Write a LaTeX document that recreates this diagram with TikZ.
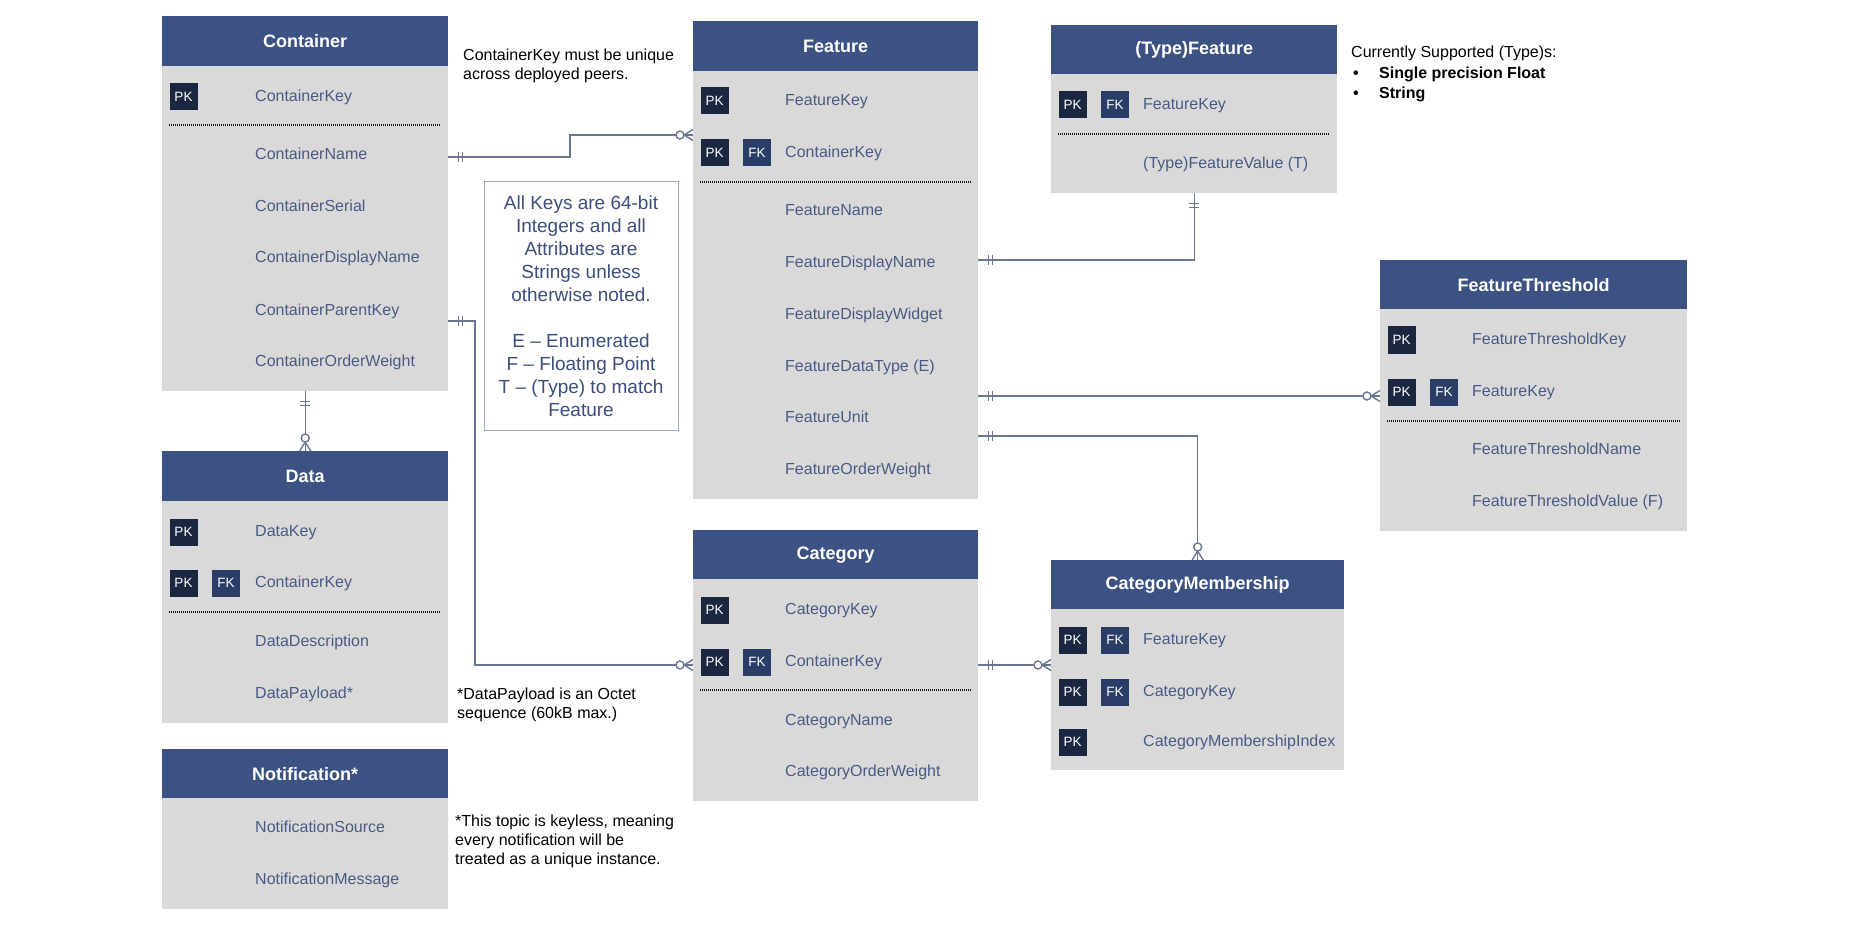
\documentclass[tikz,border=0pt]{standalone}
\usepackage{fontspec}
\setmainfont{Liberation Sans}
\definecolor{hdrblue}{HTML}{3C5282}
\definecolor{bodygray}{HTML}{D9D9D9}
\definecolor{rowtxt}{HTML}{4B5A84}
\definecolor{pkcol}{HTML}{1B2640}
\definecolor{fkcol}{HTML}{2A3D66}
\definecolor{linecol}{HTML}{6C7692}
\definecolor{notebd}{HTML}{9AA6C2}
\definecolor{notetxt}{HTML}{3D4E7C}
\newcommand\mkentity[7]{%
  \node[hdr, minimum width=#3, minimum height={#5-#4}, anchor=north west] (#1h) at (#2,#4) {#7};
  \node[bodybox, minimum width=#3, minimum height={#6-#5}, anchor=north west] (#1) at (#2,#5) {};}
\begin{document}
\begin{tikzpicture}[x=1pt,y=-1pt,
  hdr/.style={fill=hdrblue, text=white, font=\fontsize{18}{22}\selectfont\bfseries, inner sep=0},
  bodybox/.style={fill=bodygray, inner sep=0},
  row/.style={anchor=mid west, inner sep=0, yshift=-3pt, text=rowtxt, font=\fontsize{16}{19}\selectfont},
  badge/.style={minimum width=28, minimum height=27, inner sep=0, yshift=-1pt, text=white, font=\fontsize{13.5}{15}\selectfont},
  pk/.style={badge, fill=pkcol},
  fk/.style={badge, fill=fkcol},
  dotline/.style={draw=black!90, line width=1.3pt, dash pattern=on 1pt off 1pt},
  conn/.style={draw=linecol, line width=1.4pt},
  one/.pic={\draw[conn] (10,-5)--(10,5) (14,-5)--(14,5);},
  many/.pic={\draw[conn] (0,-5.5)--(9,0) (0,5.5)--(9,0); \draw[conn,fill=white] (13,0) circle[radius=4];},
  note/.style={anchor=north west, inner sep=0, align=left, font=\fontsize{16}{19}\selectfont, text=black},
  keynote/.style={draw=notebd, line width=1pt, fill=white, minimum width=194, minimum height=248, inner sep=0, align=center, text=notetxt, font=\fontsize{19}{23}\selectfont},
]
\fill[white] (0,0) rectangle (1850,925);
\useasboundingbox (0,0) rectangle (1850,925);

% ---------- entities ----------
\mkentity{cont}{162}{286}{16}{66}{391}{Container}
\mkentity{feat}{693}{285}{21}{71}{499}{Feature}
\mkentity{tf}{1051}{286}{25}{74}{193}{(Type)Feature}
\mkentity{fth}{1380}{307}{260}{309}{531}{FeatureThreshold}
\mkentity{data}{162}{286}{451}{501}{723}{Data}
\mkentity{notif}{162}{286}{749}{798}{909}{Notification*}
\mkentity{cat}{693}{285}{530}{579}{801}{Category}
\mkentity{cm}{1051}{293}{560}{609}{770}{CategoryMembership}

% Container rows
\node[pk] (contB1) at (183.5,96) {PK};
\node[row] (contR1) at (255,96) {ContainerKey};
\draw[dotline] (169,125) -- (441,125);
\node[row] (contR2) at (255,154) {ContainerName};
\node[row] (contR3) at (255,206) {ContainerSerial};
\node[row] (contR4) at (255,257) {ContainerDisplayName};
\node[row] (contR5) at (255,310) {ContainerParentKey};
\node[row] (contR6) at (255,361) {ContainerOrderWeight};

% Feature rows
\node[pk] (featB1) at (714.5,100) {PK};
\node[row] (featR1) at (785,100) {FeatureKey};
\node[pk] (featB2) at (714.5,152) {PK};
\node[fk] (featB3) at (757,152) {FK};
\node[row] (featR2) at (785,152) {ContainerKey};
\draw[dotline] (700,182) -- (971,182);
\node[row] (featR3) at (785,210) {FeatureName};
\node[row] (featR4) at (785,262) {FeatureDisplayName};
\node[row] (featR5) at (785,314) {FeatureDisplayWidget};
\node[row] (featR6) at (785,366) {FeatureDataType (E)};
\node[row] (featR7) at (785,417) {FeatureUnit};
\node[row] (featR8) at (785,469) {FeatureOrderWeight};

% (Type)Feature rows
\node[pk] (tfB1) at (1072.5,104) {PK};
\node[fk] (tfB2) at (1115,104) {FK};
\node[row] (tfR1) at (1143,104) {FeatureKey};
\draw[dotline] (1058,134) -- (1330,134);
\node[row] (tfR2) at (1143,163) {(Type)FeatureValue (T)};

% FeatureThreshold rows
\node[pk] (fthB1) at (1401.5,339) {PK};
\node[row] (fthR1) at (1472,339) {FeatureThresholdKey};
\node[pk] (fthB2) at (1401.5,391) {PK};
\node[fk] (fthB3) at (1444,391) {FK};
\node[row] (fthR2) at (1472,391) {FeatureKey};
\draw[dotline] (1387,421) -- (1680,421);
\node[row] (fthR3) at (1472,449) {FeatureThresholdName};
\node[row] (fthR4) at (1472,501) {FeatureThresholdValue (F)};

% Data rows
\node[pk] (dataB1) at (183.5,531) {PK};
\node[row] (dataR1) at (255,531) {DataKey};
\node[pk] (dataB2) at (183.5,582) {PK};
\node[fk] (dataB3) at (226,582) {FK};
\node[row] (dataR2) at (255,582) {ContainerKey};
\draw[dotline] (169,612) -- (441,612);
\node[row] (dataR3) at (255,641) {DataDescription};
\node[row] (dataR4) at (255,693) {DataPayload*};

% Notification rows
\node[row] (notifR1) at (255,827) {NotificationSource};
\node[row] (notifR2) at (255,879) {NotificationMessage};

% Category rows
\node[pk] (catB1) at (714.5,609) {PK};
\node[row] (catR1) at (785,609) {CategoryKey};
\node[pk] (catB2) at (714.5,661) {PK};
\node[fk] (catB3) at (757,661) {FK};
\node[row] (catR2) at (785,661) {ContainerKey};
\draw[dotline] (700,690) -- (971,690);
\node[row] (catR3) at (785,720) {CategoryName};
\node[row] (catR4) at (785,771) {CategoryOrderWeight};

% CategoryMembership rows
\node[pk] (cmB1) at (1072.5,639) {PK};
\node[fk] (cmB2) at (1115,639) {FK};
\node[row] (cmR1) at (1143,639) {FeatureKey};
\node[pk] (cmB3) at (1072.5,691) {PK};
\node[fk] (cmB4) at (1115,691) {FK};
\node[row] (cmR2) at (1143,691) {CategoryKey};
\node[pk] (cmB5) at (1072.5,741) {PK};
\node[row] (cmR3) at (1143,741) {CategoryMembershipIndex};

% ---------- notes ----------
\node[keynote] (keys) at (581,306) {All Keys are 64-bit\\Integers and all\\Attributes are\\Strings unless\\otherwise noted.\\[23pt]E – Enumerated\\F – Floating Point\\T – (Type) to match\\Feature};
\node[note] (n1) at (463,49) {ContainerKey must be unique\\across deployed peers.};
\node[note] (n2) at (457,688) {*DataPayload is an Octet\\sequence (60kB max.)};
\node[note] (n3) at (455,815) {*This topic is keyless, meaning\\every notification will be\\treated as a unique instance.};
\node[note, font=\fontsize{16}{20.5}\selectfont] (n4) at (1351,46) {Currently Supported (Type)s:\\
  \hspace*{2pt}\makebox[26pt][l]{\bfseries •}\textbf{Single precision Float}\\
  \hspace*{2pt}\makebox[26pt][l]{\bfseries •}\textbf{String}};

% ---------- connectors ----------
\draw[conn] (cont.east |- 0,157) -- (570,157) |- (feat.west |- 0,135);
\draw[conn] (cont.east |- 0,321) -- (475,321) |- (cat.west |- 0,665);
\draw[conn] (cont.south) -- (datah.north);
\draw[conn] (feat.east |- 0,260) -| (tf.south);
\draw[conn] (feat.east |- 0,396) -- (fth.west |- 0,396);
\draw[conn] (feat.east |- 0,436) -| (cmh.north);
\draw[conn] (cat.east |- 0,665) -- (cm.west |- 0,665);

\pic at (cont.east |- 0,157) {one};
\pic[rotate=180] at (feat.west |- 0,135) {many};
\pic at (cont.east |- 0,321) {one};
\pic[rotate=180] at (cat.west |- 0,665) {many};
\pic[rotate=-90] at (cont.south) {one};
\pic[rotate=90] at (datah.north) {many};
\pic at (feat.east |- 0,260) {one};
\pic[rotate=-90] at (tf.south) {one};
\pic at (feat.east |- 0,396) {one};
\pic[rotate=180] at (fth.west |- 0,396) {many};
\pic at (feat.east |- 0,436) {one};
\pic[rotate=90] at (cmh.north) {many};
\pic at (cat.east |- 0,665) {one};
\pic[rotate=180] at (cm.west |- 0,665) {many};
\end{tikzpicture}
\end{document}
